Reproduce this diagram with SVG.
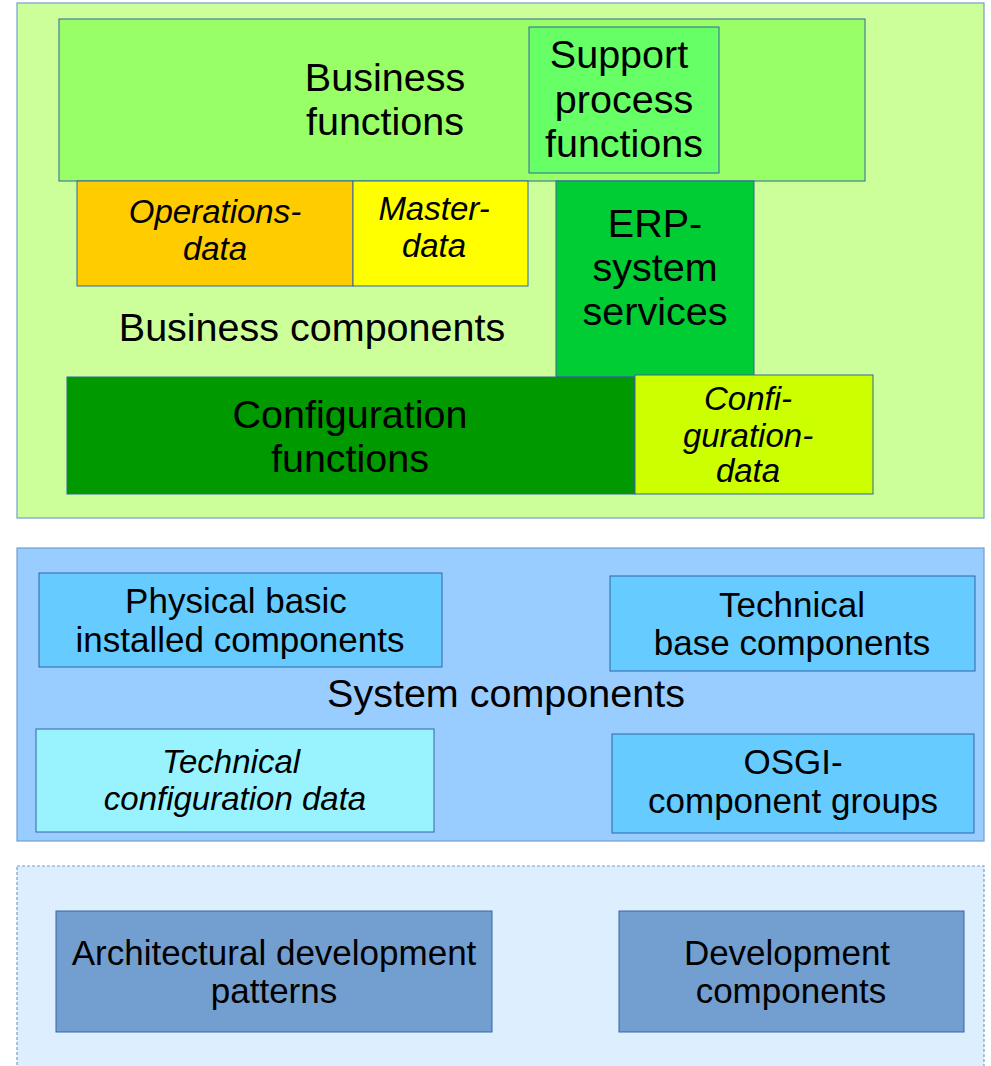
<svg xmlns="http://www.w3.org/2000/svg" width="991" height="1066" viewBox="0 0 991 1066">
<style>
text{font-family:"Liberation Sans",Arial,sans-serif;fill:#000;text-anchor:middle}
.b{stroke:#3465a4;stroke-width:1}
.o{stroke:#729fcf;stroke-width:1.2}
.l{font-size:39.5px}
.m{font-size:35px}
.i{font-size:33px;font-style:italic}
</style>
<rect width="991" height="1066" fill="#fff"/>
<g id="business-components">
<rect class="o" x="17" y="3" width="967" height="515" fill="#ccff99"/>
<text class="l" x="312" y="341">Business components</text>
</g>
<g id="business-functions">
<rect class="b" x="59" y="19" width="806" height="162" fill="#99ff66"/>
<text class="l" x="385" y="91">Business</text>
<text class="l" x="385" y="135">functions</text>
</g>
<g id="support-process-functions">
<rect class="b" x="529" y="27" width="190" height="146" fill="#66ff66"/>
<text class="l" x="619" y="68">Support</text>
<text class="l" x="624" y="113">process</text>
<text class="l" x="624" y="157">functions</text>
</g>
<g id="operations-data">
<rect class="b" x="77" y="181" width="276" height="105" fill="#ffcc00"/>
<text class="i" x="215" y="223">Operations-</text>
<text class="i" x="215" y="260">data</text>
</g>
<g id="master-data">
<rect class="b" x="353" y="181" width="175" height="105" fill="#ffff00"/>
<text class="i" x="434" y="220">Master-</text>
<text class="i" x="434" y="257">data</text>
</g>
<g id="erp-system-services">
<rect class="b" x="556" y="181" width="198" height="196" fill="#00cc33"/>
<text class="l" x="655" y="237">ERP-</text>
<text class="l" x="655" y="281">system</text>
<text class="l" x="655" y="325">services</text>
</g>
<g id="configuration-functions">
<rect class="b" x="67" y="377" width="568" height="117" fill="#009900"/>
<text class="l" x="350" y="428">Configuration</text>
<text class="l" x="350" y="472">functions</text>
</g>
<g id="configuration-data">
<rect class="b" x="635" y="375" width="238" height="119" fill="#ccff00"/>
<text class="i" x="748" y="410">Confi-</text>
<text class="i" x="748" y="447">guration-</text>
<text class="i" x="748" y="482">data</text>
</g>
<g id="system-components">
<rect class="o" x="17" y="548" width="967" height="293" fill="#99ccff"/>
<text class="l" x="506" y="707">System components</text>
</g>
<g id="physical-basic-installed-components">
<rect class="b" x="39" y="573" width="403" height="94" fill="#66ccff"/>
<text class="m" x="236" y="613">Physical basic</text>
<text class="m" x="240" y="652">installed components</text>
</g>
<g id="technical-base-components">
<rect class="b" x="610" y="576" width="365" height="95" fill="#66ccff"/>
<text class="m" x="792" y="617">Technical</text>
<text class="m" x="792" y="655">base components</text>
</g>
<g id="technical-configuration-data">
<rect class="b" x="36" y="729" width="398" height="103" fill="#99f3ff"/>
<text class="i" x="231" y="773">Technical</text>
<text class="i" x="235" y="810">configuration data</text>
</g>
<g id="osgi-component-groups">
<rect class="b" x="612" y="734" width="362" height="99" fill="#66ccff"/>
<text class="m" x="793" y="774">OSGI-</text>
<text class="m" x="793" y="813">component groups</text>
</g>
<g id="development">
<rect x="17" y="866" width="967" height="210" fill="#ddeeff" stroke="#729fcf" stroke-width="1.2" stroke-dasharray="3,2"/>
</g>
<g id="architectural-development-patterns">
<rect class="b" x="56" y="911" width="436" height="121" fill="#729fcf"/>
<text class="m" x="274" y="965">Architectural development</text>
<text class="m" x="274" y="1003">patterns</text>
</g>
<g id="development-components">
<rect class="b" x="619" y="911" width="345" height="121" fill="#729fcf"/>
<text class="m" x="787" y="965">Development</text>
<text class="m" x="791" y="1003">components</text>
</g>
<g id="connectors"></g>
</svg>
